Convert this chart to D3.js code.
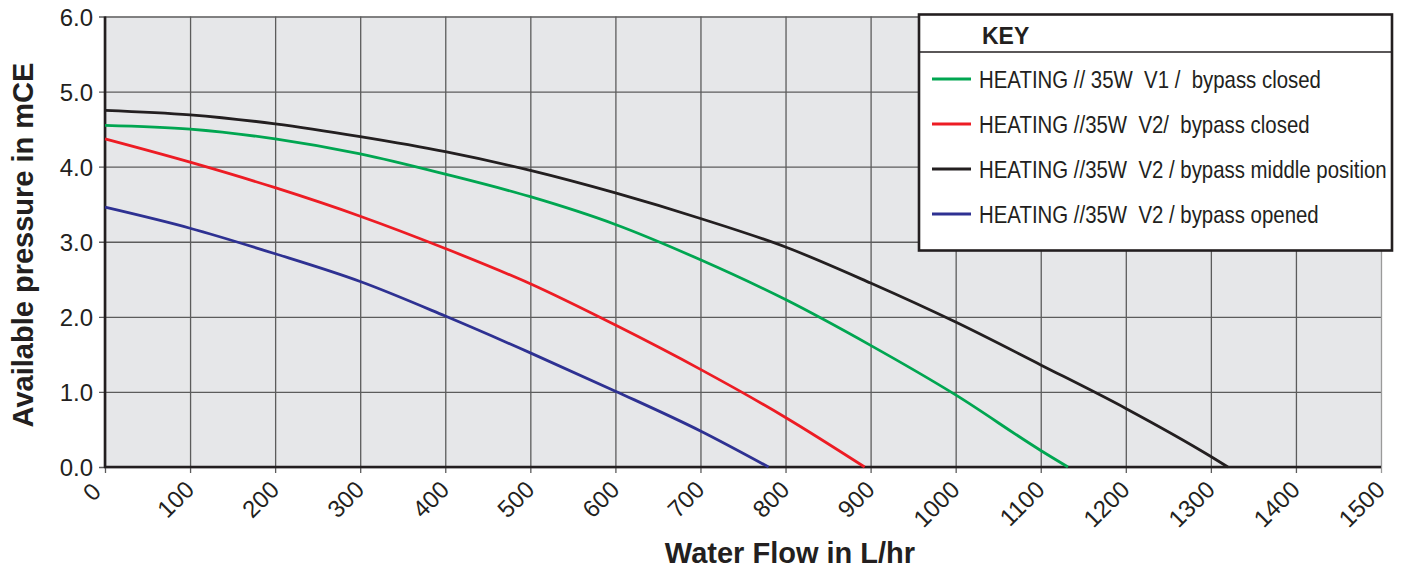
<!DOCTYPE html>
<head>
<style>
body { margin: 0; background: #fff; }
svg { font-family: "Liberation Sans", Arial, sans-serif; }
.leg text { white-space: pre; }
</style>
<script src="https://d3js.org/d3.v7.min.js"></script>
</head>
<body>
<svg id="chart" width="1401" height="572"></svg>
<script>

// x values (L/hr) and pressures (mCE)
var flowV1Closed = [0, 100, 200, 300, 400, 500, 600, 700, 800, 900, 1000, 1100, 1132];
var presV1Closed = [4.55, 4.50, 4.37, 4.17, 3.90, 3.60, 3.23, 2.76, 2.23, 1.62, 0.96, 0.22, 0];

var flowV2Closed = [0, 100, 200, 300, 400, 500, 600, 700, 800, 893];
var presV2Closed = [4.37, 4.06, 3.72, 3.34, 2.91, 2.44, 1.89, 1.30, 0.66, 0];

var flowV2Middle = [0, 100, 200, 300, 400, 500, 600, 700, 800, 900, 1000, 1100, 1200, 1300, 1320];
var presV2Middle = [4.75, 4.69, 4.57, 4.40, 4.20, 3.95, 3.65, 3.31, 2.93, 2.45, 1.93, 1.36, 0.78, 0.14, 0];

var flowV2Opened = [0, 100, 200, 300, 400, 500, 600, 700, 780];
var presV2Opened = [3.46, 3.18, 2.84, 2.47, 2.01, 1.52, 1.01, 0.48, 0];

var seriesNames = [
    "HEATING // 35W  V1 /  bypass closed",
    "HEATING //35W  V2/  bypass closed",
    "HEATING //35W  V2 / bypass middle position",
    "HEATING //35W  V2 / bypass opened"
];
var seriesColors = ["#00a651", "#ed1c24", "#231f20", "#2e3192"];

var xTickValues = d3.range(0, 1501, 100);
var yTickValues = [0, 1, 2, 3, 4, 5, 6];

var series = [
    { name: seriesNames[0], color: seriesColors[0], flow: flowV1Closed, pres: presV1Closed },
    { name: seriesNames[1], color: seriesColors[1], flow: flowV2Closed, pres: presV2Closed },
    { name: seriesNames[2], color: seriesColors[2], flow: flowV2Middle, pres: presV2Middle },
    { name: seriesNames[3], color: seriesColors[3], flow: flowV2Opened, pres: presV2Opened }
];

var plot = { left: 105, right: 1381, top: 16.5, bottom: 467 };

var x = d3.scaleLinear().domain([0, 1500]).range([plot.left, plot.right]);
var y = d3.scaleLinear().domain([0, 6]).range([plot.bottom, plot.top]);

var svg = d3.select("#chart");

// plot background
svg.append("rect")
    .attr("x", plot.left).attr("y", plot.top)
    .attr("width", plot.right - plot.left)
    .attr("height", plot.bottom - plot.top)
    .attr("fill", "#e6e7e9");

// grid + ticks via axes
var gridColor = "#5c5c5c";

var yAxis = svg.append("g")
    .attr("transform", "translate(" + plot.left + ",0)")
    .call(d3.axisLeft(y).tickValues(yTickValues)
        .tickSize(-(plot.right - plot.left))
        .tickFormat(d3.format(".1f"))
        .tickPadding(12));
yAxis.select(".domain").remove();
yAxis.selectAll("line")
    .attr("x2", plot.right - plot.left)
    .attr("x1", -6)
    .attr("stroke", gridColor).attr("stroke-width", 1.3);
yAxis.selectAll("text")
    .attr("font-size", 24)
    .attr("fill", "#231f20")
    .attr("dy", "0.36em")
    .attr("font-family", "Liberation Sans, Arial, sans-serif");

var xAxis = svg.append("g")
    .attr("transform", "translate(0," + plot.bottom + ")")
    .call(d3.axisBottom(x).tickValues(xTickValues)
        .tickFormat(d3.format("d")));
xAxis.select(".domain").remove();
xAxis.selectAll("line")
    .attr("y1", -(plot.bottom - plot.top))
    .attr("y2", 6)
    .attr("stroke", function(d) { return d === 1500 ? "#9a9a9a" : gridColor; })
    .attr("stroke-width", 1.3);
xAxis.selectAll("text")
    .attr("font-size", 24)
    .attr("fill", "#231f20")
    .attr("font-family", "Liberation Sans, Arial, sans-serif")
    .attr("text-anchor", "end")
    .attr("y", 0).attr("dy", 0)
    .attr("transform", function(d) {
        return d === 0 ? "translate(-3,26) rotate(-45)" : "translate(5,24) rotate(-45)";
    });

// main axis lines
svg.append("line")
    .attr("x1", plot.left).attr("x2", plot.left)
    .attr("y1", plot.top).attr("y2", plot.bottom + 1)
    .attr("stroke", "#231f20").attr("stroke-width", 2.6);
svg.append("line")
    .attr("x1", plot.left - 1).attr("x2", plot.right)
    .attr("y1", plot.bottom).attr("y2", plot.bottom)
    .attr("stroke", "#231f20").attr("stroke-width", 2.6);

// curves
var line = d3.line()
    .x(function(d) { return x(d[0]); })
    .y(function(d) { return y(d[1]); })
    .curve(d3.curveMonotoneX);

svg.append("g").selectAll("path")
    .data(series)
    .enter().append("path")
    .attr("fill", "none")
    .attr("stroke", function(d) { return d.color; })
    .attr("stroke-width", 2.8)
    .attr("d", function(d) {
        return line(d.flow.map(function(f, i) { return [f, d.pres[i]]; }));
    });

// axis titles
svg.append("text")
    .attr("transform", "translate(33," + 245 + ") rotate(-90)")
    .attr("text-anchor", "middle")
    .attr("font-size", 29).attr("font-weight", "bold")
    .attr("fill", "#231f20")
    .text("Available pressure in mCE");

svg.append("text")
    .attr("x", 790).attr("y", 563)
    .attr("text-anchor", "middle")
    .attr("font-size", 29).attr("font-weight", "bold")
    .attr("fill", "#231f20")
    .text("Water Flow in L/hr");

// legend (KEY)
var leg = svg.append("g").attr("class", "leg");
leg.append("rect")
    .attr("x", 919).attr("y", 14.5)
    .attr("width", 473).attr("height", 236)
    .attr("fill", "#fff")
    .attr("stroke", "#231f20").attr("stroke-width", 2.6);
leg.append("line")
    .attr("x1", 919).attr("x2", 1392)
    .attr("y1", 52).attr("y2", 52)
    .attr("stroke", "#231f20").attr("stroke-width", 1.6);
leg.append("text")
    .attr("x", 982).attr("y", 44)
    .attr("font-size", 23).attr("font-weight", "bold")
    .attr("fill", "#231f20")
    .text("KEY");

var rows = leg.selectAll(".row")
    .data(series)
    .enter().append("g")
    .attr("class", "row")
    .attr("transform", function(d, i) { return "translate(0," + (79 + i * 45) + ")"; });
rows.append("line")
    .attr("x1", 932).attr("x2", 971)
    .attr("stroke", function(d) { return d.color; })
    .attr("stroke-width", 2.8);
// the original uses a condensed face; squeeze the regular one horizontally
rows.append("text")
    .attr("transform", "translate(979,0) scale(0.85,1)")
    .attr("dy", "0.36em")
    .attr("font-size", 24)
    .attr("fill", "#231f20")
    .text(function(d) { return d.name; });

</script>
</body>
</html>
